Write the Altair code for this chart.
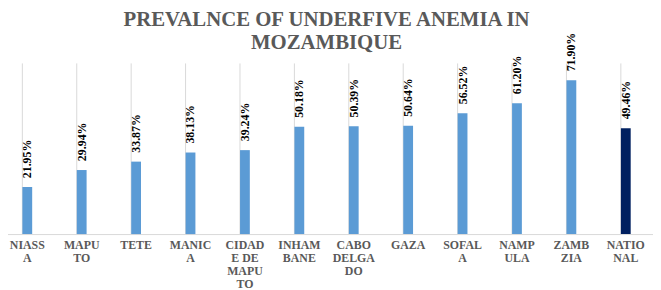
import json
import altair as alt
import pandas as pd

categories = ["NIASSA", "MAPUTO", "TETE", "MANICA", "CIDADE DE MAPUTO", "INHAMBANE",
              "CABO DELGADO", "GAZA", "SOFALA", "NAMPULA", "ZAMBZIA", "NATIONAL"]
label_lines = [["NIASS", "A"], ["MAPU", "TO"], ["TETE"], ["MANIC", "A"],
               ["CIDAD", "E DE", "MAPU", "TO"], ["INHAM", "BANE"],
               ["CABO", "DELGA", "DO"], ["GAZA"], ["SOFAL", "A"], ["NAMP", "ULA"],
               ["ZAMB", "ZIA"], ["NATIO", "NAL"]]
values = [21.95, 29.94, 33.87, 38.13, 39.24, 50.18, 50.39, 50.64, 56.52, 61.20, 71.90, 49.46]
kinds = ["Province"] * 11 + ["National"]

df = pd.DataFrame({"category": categories, "value": values, "kind": kinds})
df["label"] = [f"{v:.2f}%" for v in values]

label_map = json.dumps(dict(zip(categories, label_lines)))

x = alt.X("category:N", sort=categories, title=None,
          scale=alt.Scale(paddingInner=0.82, paddingOuter=0.41),
          axis=alt.Axis(labelAngle=0, labelExpr=f"{label_map}[datum.value]",
                        labelFont="Liberation Serif", labelFontSize=12, labelFontWeight="bold",
                        labelColor="#595959", labelLineHeight=13, labelPadding=6,
                        labelBaseline="top", ticks=False, domainColor="#D9D9D9",
                        grid=True, gridColor="#D9D9D9", bandPosition=0,
                        labelOverlap=False, labelBound=False))
y = alt.Y("value:Q", scale=alt.Scale(domain=[0, 80]), axis=None)

bars = alt.Chart(df).mark_bar().encode(
    x=x, y=y,
    color=alt.Color("kind:N", scale=alt.Scale(domain=["Province", "National"],
                                              range=["#5B9BD5", "#002060"]), legend=None),
)
text = alt.Chart(df).mark_text(angle=270, align="left", baseline="middle", dx=9,
                               font="Liberation Serif", fontSize=12, fontWeight="bold",
                               color="#000000").encode(
    x=alt.X("category:N", sort=categories), y=y, text="label:N")

chart = (bars + text).properties(
    width=660, height=173,
    padding={"left": -8, "top": -1, "right": 0, "bottom": 0},
    title=alt.Title(["PREVALNCE OF UNDERFIVE ANEMIA IN", "MOZAMBIQUE"],
                    font="Liberation Serif", fontSize=21, fontWeight="bold",
                    color="#595959", anchor="middle", lineHeight=23, offset=-20),
).configure_view(stroke=None)

chart.save("out.html", embed_options={"renderer": "svg", "actions": False})
